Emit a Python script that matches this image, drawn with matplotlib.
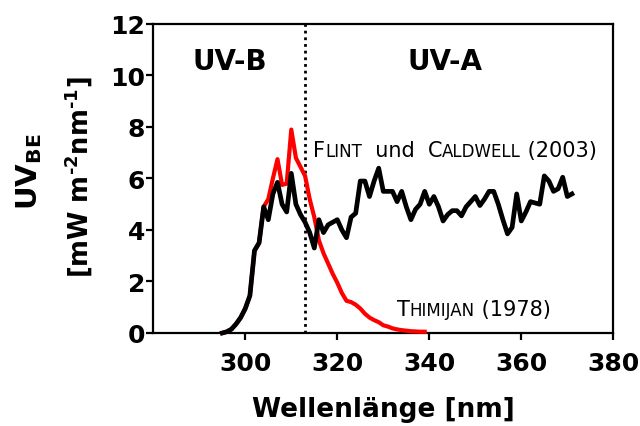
import matplotlib
matplotlib.use("Agg")
import matplotlib.pyplot as plt

# ---- data ----
flint_wl = list(range(295, 372))
flint_uv = [0.0, 0.05, 0.15, 0.35, 0.6, 0.95, 1.45, 3.2, 3.5, 4.9,
            4.4, 5.4, 5.85, 5.0, 4.7, 6.2, 5.0, 4.6, 4.3, 3.9,
            3.3, 4.4, 3.9, 4.2, 4.3, 4.4, 4.0, 3.7, 4.5, 4.65,
            5.9, 5.9, 5.3, 5.9, 6.4, 5.5, 5.5, 5.5, 5.1, 5.5,
            4.9, 4.4, 4.8, 5.0, 5.5, 5.0, 5.3, 4.9, 4.35, 4.6,
            4.75, 4.75, 4.55, 4.9, 5.1, 5.3, 4.95, 5.2, 5.5, 5.5,
            5.0, 4.4, 3.85, 4.1, 5.4, 4.35, 4.7, 5.1, 5.05, 5.0,
            6.1, 5.9, 5.5, 5.6, 6.05, 5.3, 5.4]

thimijan_wl = list(range(295, 340))
thimijan_uv = [0.0, 0.05, 0.15, 0.35, 0.6, 0.95, 1.45, 3.2, 3.5, 4.9,
               5.2, 6.0, 6.75, 5.75, 5.8, 7.9, 6.8, 6.45, 6.1, 5.2,
               4.5, 3.6, 3.1, 2.7, 2.3, 1.95, 1.55, 1.25, 1.2, 1.1,
               0.95, 0.75, 0.6, 0.5, 0.42, 0.3, 0.25, 0.18, 0.14, 0.11,
               0.09, 0.07, 0.06, 0.05, 0.05]

x_ticks = [300, 320, 340, 360, 380]
y_ticks = [0, 2, 4, 6, 8, 10, 12]
uv_boundary = 313

plt.rcParams['font.family'] = ['DejaVu Sans']
plt.rcParams['mathtext.fontset'] = 'dejavusans'
plt.rcParams['mathtext.default'] = 'bf'

fig = plt.figure(figsize=(6.4, 4.27), dpi=100)
ax = fig.add_axes([0.2395, 0.2178, 0.7188, 0.7237])

ax.plot(thimijan_wl, thimijan_uv, color='#ff0000', lw=3.0, clip_on=False,
        solid_joinstyle='round', zorder=3)
ax.plot(flint_wl, flint_uv, color='black', lw=3.4, clip_on=False,
        solid_joinstyle='round', zorder=4)
ax.plot([uv_boundary, uv_boundary], [0, 12], color='black', lw=2.0,
        linestyle=(0, (1.0, 1.4)), zorder=2)

ax.set_xlim(280, 380)
ax.set_ylim(0, 12)
ax.set_xticks(x_ticks)
ax.set_yticks(y_ticks)
for sp in ax.spines.values():
    sp.set_linewidth(1.6)
ax.tick_params(axis='both', direction='out', length=5, width=1.6,
               labelsize=18)
ax.tick_params(axis='y', pad=1)
ax.tick_params(axis='x', pad=8)
for lab in ax.get_xticklabels() + ax.get_yticklabels():
    lab.set_fontweight('bold')

# region labels
ax.text(296.7, 10.55, 'UV-B', ha='center', va='center', fontsize=20,
        fontweight='bold')
ax.text(343.4, 10.55, 'UV-A', ha='center', va='center', fontsize=20,
        fontweight='bold')

def small_caps(x, y, pieces):
    prev = ax.text(x, y, pieces[0][0], fontsize=pieces[0][1], va='baseline')
    for txt, size in pieces[1:]:
        prev = ax.annotate(txt, xy=(1, y), xycoords=(prev, 'data'),
                           va='baseline', ha='left', fontsize=size)

small_caps(314.7, 6.89, [('F', 15), ('LINT', 12), ('  und  ', 15),
                         ('C', 15), ('ALDWELL', 12), (' (2003)', 15)])
small_caps(332.9, 0.70, [('T', 15), ('HIMIJAN', 12), (' (1978)', 15)])

# axis labels
fig.text(383 / 640, 1 - 417 / 427, 'Wellenlänge [nm]', ha='center',
         va='baseline', fontsize=19, fontweight='bold')
fig.text(37 / 640, 1 - 172 / 427, r'UV$_{BE}$', rotation=90,
         rotation_mode='anchor', ha='center', va='baseline', fontsize=21,
         fontweight='bold')
fig.text(89 / 640, 1 - 177 / 427,
         '[mW m$^{\u2010' + '2}$nm$^{\u2010' + '1}$]', rotation=90,
         rotation_mode='anchor', ha='center', va='baseline', fontsize=18.5,
         fontweight='bold')

fig.savefig('out.png', dpi=100)
